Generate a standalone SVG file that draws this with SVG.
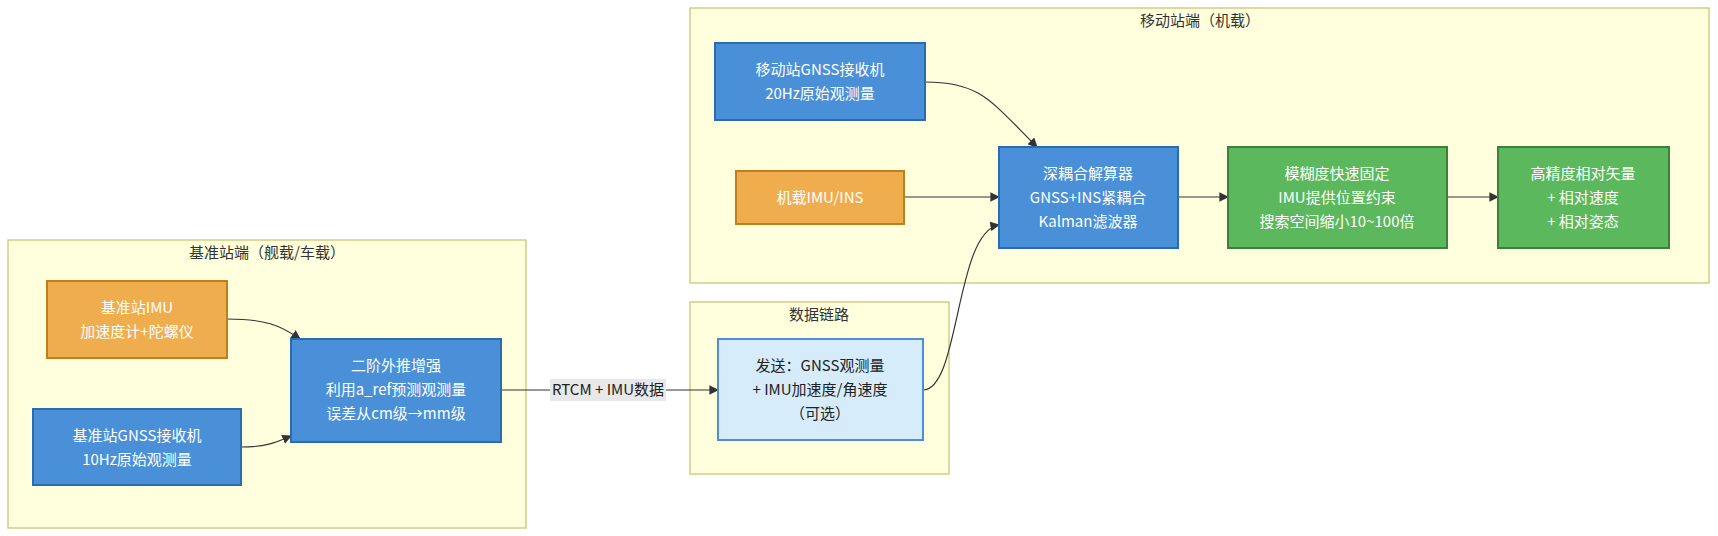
<svg xmlns="http://www.w3.org/2000/svg" width="1718" height="536" viewBox="0 0 1718 536">
<defs>
<marker id="ah" viewBox="0 0 10 10" refX="9" refY="5" markerWidth="8" markerHeight="8" orient="auto"><path d="M0,0L10,5L0,10z" fill="#333"/></marker>
<style>
text{font-family:"Noto Sans CJK SC","Noto Sans",sans-serif;font-size:15px;text-anchor:middle}
.cl{fill:#ffffde;stroke:#c8c870;stroke-width:1.3}
.ct{fill:#333}
.b{fill:#4a90d9;stroke:#2a6cb0;stroke-width:2}
.o{fill:#f0ad4e;stroke:#c07f1e;stroke-width:2}
.g{fill:#5cb85c;stroke:#3d7f3d;stroke-width:2}
.l{fill:#d6ecfb;stroke:#4a90d9;stroke-width:2}
.w{fill:#fff}
.d{fill:#222}
.e{fill:none;stroke:#333;stroke-width:1.2;marker-end:url(#ah)}
</style>
</defs>
<g id="cluster-base"><rect class="cl" x="8" y="240" width="518" height="288"/><text class="ct" x="267" y="258">基准站端（舰载/车载）</text></g>
<g id="cluster-link"><rect class="cl" x="690" y="302" width="259" height="172"/><text class="ct" x="819" y="320">数据链路</text></g>
<g id="cluster-mobile"><rect class="cl" x="690" y="8" width="1019" height="275"/><text class="ct" x="1200" y="26">移动站端（机载）</text></g>
<g id="edges">
<path class="e" d="M227,319 C265,319 280,325 300,339"/>
<path class="e" d="M241,447 C265,447 275,443 291,436"/>
<path class="e" d="M501,390 L718,390"/>
<rect x="550" y="379" width="116" height="22" fill="#e8e8e8"/><text class="d" x="608" y="395">RTCM + IMU数据</text>
<path class="e" d="M923,390 C960,390 955,232 999,225"/>
<path class="e" d="M925,82 C980,82 990,100 1037,147"/>
<path class="e" d="M904,197 L999,197"/>
<path class="e" d="M1178,197 L1228,197"/>
<path class="e" d="M1447,197 L1498,197"/>
</g>
<g id="n-baseimu"><rect class="o" x="47" y="281" width="180" height="77"/><text class="w" x="137" y="313">基准站IMU</text><text class="w" x="137" y="337">加速度计+陀螺仪</text></g>
<g id="n-basegnss"><rect class="b" x="33" y="409" width="208" height="76"/><text class="w" x="137" y="441">基准站GNSS接收机</text><text class="w" x="137" y="465">10Hz原始观测量</text></g>
<g id="n-extrap"><rect class="b" x="291" y="339" width="210" height="103"/><text class="w" x="396" y="371">二阶外推增强</text><text class="w" x="396" y="395">利用a_ref预测观测量</text><text class="w" x="396" y="419">误差从cm级→mm级</text></g>
<g id="n-send"><rect class="l" x="718" y="339" width="205" height="101"/><text class="d" x="820" y="371">发送：GNSS观测量</text><text class="d" x="820" y="395">+ IMU加速度/角速度</text><text class="d" x="820" y="419">（可选）</text></g>
<g id="n-mgnss"><rect class="b" x="715" y="43" width="210" height="77"/><text class="w" x="820" y="75">移动站GNSS接收机</text><text class="w" x="820" y="99">20Hz原始观测量</text></g>
<g id="n-mimu"><rect class="o" x="736" y="171" width="168" height="53"/><text class="w" x="820" y="203">机载IMU/INS</text></g>
<g id="n-solver"><rect class="b" x="999" y="147" width="179" height="101"/><text class="w" x="1088" y="179">深耦合解算器</text><text class="w" x="1088" y="203">GNSS+INS紧耦合</text><text class="w" x="1088" y="227">Kalman滤波器</text></g>
<g id="n-amb"><rect class="g" x="1228" y="147" width="219" height="101"/><text class="w" x="1337" y="179">模糊度快速固定</text><text class="w" x="1337" y="203">IMU提供位置约束</text><text class="w" x="1337" y="227">搜索空间缩小10~100倍</text></g>
<g id="n-out"><rect class="g" x="1498" y="147" width="171" height="101"/><text class="w" x="1583" y="179">高精度相对矢量</text><text class="w" x="1583" y="203">+ 相对速度</text><text class="w" x="1583" y="227">+ 相对姿态</text></g>
</svg>
